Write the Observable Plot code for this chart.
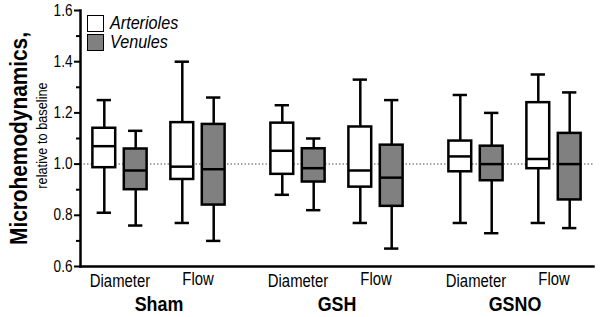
<!DOCTYPE html>
<html><head><meta charset="utf-8">
<script src="https://cdn.jsdelivr.net/npm/d3@7"></script>
<script src="https://cdn.jsdelivr.net/npm/@observablehq/plot@0.6"></script>
<style>
body{margin:0;background:#fff;}
#wrap{position:relative;width:600px;height:317px;}
.leg{position:absolute;left:87px;height:18px;display:flex;align-items:center;color:#000;}
.sw{width:15px;height:15px;border:1.5px solid #000;margin-right:6px;flex:none}
.lt{display:inline-block;font-style:italic;transform:scaleX(0.85);transform-origin:left center;white-space:nowrap}
</style></head><body><div id="wrap"></div>
<script>
// ---- data ----
const groups = ["Sham", "GSH", "GSNO"];
const measures = ["Diameter", "Flow"];
const vessels = ["Arterioles", "Venules"];
const yTicks = [0.6, 0.8, 1.0, 1.2, 1.4, 1.6];
const yMinorTicks = [0.7, 0.9, 1.1, 1.3, 1.5];
const baseline = [1.0];
// order per group: Diameter-Arterioles, Diameter-Venules, Flow-Arterioles, Flow-Venules
const whiskerLow  = [0.81, 0.76, 0.77, 0.70,   0.88, 0.82, 0.77, 0.67,   0.77, 0.73, 0.77, 0.75];
const quartile1   = [0.986, 0.90, 0.94, 0.84,  0.96, 0.93, 0.91, 0.835,  0.97, 0.935, 0.982, 0.86];
const medians     = [1.07, 0.975, 0.99, 0.98,  1.052, 0.984, 0.975, 0.947, 1.03, 1.0, 1.02, 1.0];
const quartile3   = [1.14, 1.059, 1.162, 1.155, 1.16, 1.06, 1.145, 1.074, 1.09, 1.07, 1.24, 1.12];
const whiskerHigh = [1.25, 1.13, 1.40, 1.26,   1.23, 1.10, 1.33, 1.25,   1.27, 1.20, 1.35, 1.28];

const rows = [];
let k = 0;
for (const group of groups) for (const measure of measures) for (const vessel of vessels) {
  rows.push({group, measure, vessel, lo: whiskerLow[k], q1: quartile1[k], med: medians[k], q3: quartile3[k], hi: whiskerHigh[k]});
  k++;
}

const FONT = "'Liberation Sans', Arial, Helvetica, sans-serif";
const SQUEEZE = 0.85; // the reference's type is horizontally condensed

// ---- layout ----
const W = 600, H = 317, mL = 80, mR = 7, mT = 10, mB = 51;
const pIn = 0.3, pOut = 0.09;
const step = (W - mL - mR) / (groups.length - pIn + 2 * pOut);
const bw = step * (1 - pIn);
const boxW = 22.5, capW = 14;
const measureOff = 39, vesselOff = 15.7;
const fills = {Arterioles: "#ffffff", Venules: "#808080"};
const SW = 2.5;

const boxMarks = [];
measures.forEach((m, mi) => vessels.forEach((v, vi) => {
  const sub = rows.filter(d => d.measure === m && d.vessel === v);
  const dx = (mi ? 1 : -1) * measureOff + (vi ? 1 : -1) * vesselOff;
  const bi = (bw - boxW) / 2, ci = (bw - capW) / 2;
  boxMarks.push(
    Plot.ruleX(sub, {x: "group", y1: "lo", y2: "hi", dx, stroke: "#000", strokeWidth: SW}),
    Plot.tickY(sub, {x: "group", y: "lo", dx, insetLeft: ci, insetRight: ci, stroke: "#000", strokeWidth: SW}),
    Plot.tickY(sub, {x: "group", y: "hi", dx, insetLeft: ci, insetRight: ci, stroke: "#000", strokeWidth: SW}),
    Plot.barY(sub, {x: "group", y1: "q1", y2: "q3", dx, insetLeft: bi, insetRight: bi, fill: fills[v], stroke: "#000", strokeWidth: SW}),
    Plot.tickY(sub, {x: "group", y: "med", dx, insetLeft: bi, insetRight: bi, stroke: "#000", strokeWidth: SW})
  );
}));

const chart = Plot.plot({
  width: W, height: H,
  marginLeft: mL, marginRight: mR, marginTop: mT, marginBottom: mB,
  style: {fontFamily: FONT, fontSize: "16px", color: "#000", background: "#fff", overflow: "visible"},
  x: {domain: groups, paddingInner: pIn, paddingOuter: pOut, label: null},
  y: {domain: [0.6, 1.6], label: null},
  marks: [
    Plot.ruleY(baseline, {stroke: "#8a8a8a", strokeWidth: 1.5, strokeDasharray: "1.5,2"}),
    ...boxMarks,
    Plot.axisY({ticks: yTicks, tickSize: 6, tickPadding: 2, tickFormat: d3.format(".1f"), strokeWidth: 2, fontSize: 16, label: null}),
    Plot.axisY({ticks: yMinorTicks, tickSize: 4, tickFormat: () => "", strokeWidth: 2, label: null}),
    Plot.axisX({tickSize: 0, tickPadding: 30, fontSize: 21, fontWeight: "bold", label: null}),
    Plot.frame({anchor: "left", strokeWidth: 2.5}),
    Plot.frame({anchor: "bottom", strokeWidth: 2.5}),
    Plot.text(groups, {x: d => d, text: () => measures[0], frameAnchor: "bottom", dx: -measureOff, dy: 20, fontSize: 17.5}),
    Plot.text(groups, {x: d => d, text: () => measures[1], frameAnchor: "bottom", dx: measureOff, dy: 18, fontSize: 17.5}),
    Plot.text(["Microhemodynamics,"], {text: d => d, frameAnchor: "left", textAnchor: "middle", rotate: -90, dx: -54, lineAnchor: "bottom", fontSize: 24.5, fontWeight: "bold"}),
    Plot.text(["relative to baseline"], {text: d => d, frameAnchor: "left", textAnchor: "middle", rotate: -90, dx: -34, dy: -3, lineAnchor: "bottom", fontSize: 15})
  ]
});
const wrap = document.getElementById("wrap");
wrap.appendChild(chart);

// condense the glyphs like the reference's narrow typeface
chart.querySelectorAll("text").forEach(t => {
  const L = t.getComputedTextLength();
  if (L > 0) {
    t.setAttribute("textLength", L * SQUEEZE);
    t.setAttribute("lengthAdjust", "spacingAndGlyphs");
  }
});

// legend
vessels.forEach((v, i) => {
  const el = document.createElement("div");
  el.className = "leg";
  el.style.top = (14 + i * 19.3) + "px";
  el.style.fontFamily = FONT;
  el.style.fontSize = "19px";
  el.innerHTML = `<div class="sw" style="background:${fills[v]}"></div><span class="lt">${v}</span>`;
  wrap.appendChild(el);
});
</script>
</body></html>
